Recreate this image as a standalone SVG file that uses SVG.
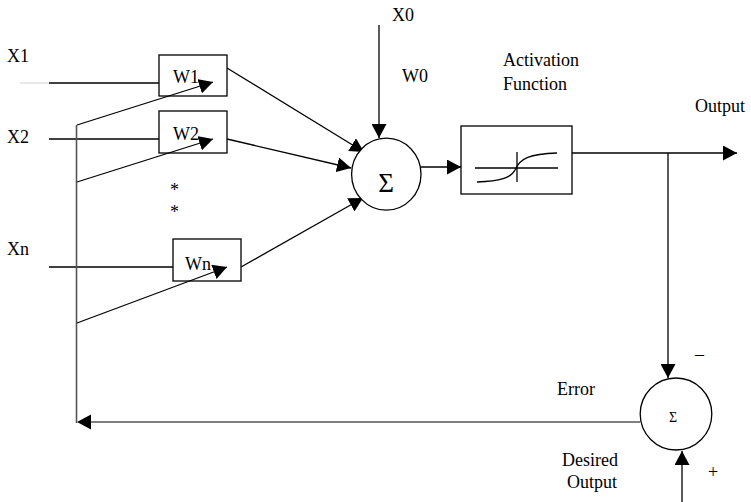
<svg xmlns="http://www.w3.org/2000/svg" width="751" height="502" viewBox="0 0 751 502">
<style>
text{font-family:"Liberation Serif","Times New Roman",serif;font-size:18px;fill:#000}
.box{fill:#fff;stroke:#000;stroke-width:1.3}
.ln{fill:none;stroke:#000;stroke-width:1.3}
.arr{fill:none;stroke:#000;stroke-width:1.3;marker-end:url(#ah)}
.fb{fill:none;stroke:#555;stroke-width:1.6}
</style>
<defs>
<marker id="ah" viewBox="0 0 14 15" markerWidth="14" markerHeight="15" refX="14" refY="7.5" orient="auto" markerUnits="userSpaceOnUse">
<path d="M0,0 L14,7.5 L0,15 z" fill="#000"/>
</marker>
</defs>
<rect width="751" height="502" fill="#fff"/>

<g id="labels">
<text x="7" y="62">X1</text>
<text x="7" y="143">X2</text>
<text x="7" y="255">Xn</text>
<text x="392" y="21">X0</text>
<text x="402" y="82">W0</text>
<text x="503" y="66">Activation</text>
<text x="503" y="90">Function</text>
<text x="695" y="112">Output</text>
<text x="695" y="360">–</text>
<text x="557" y="395">Error</text>
<text x="562" y="466">Desired</text>
<text x="567" y="488">Output</text>
<text x="708" y="478">+</text>
<text x="170" y="196">*</text>
<text x="170" y="218">*</text>
</g>

<g id="connectors">
<line x1="20" y1="83" x2="49" y2="83" stroke="#ddd" stroke-width="1.3"/>
<line class="ln" x1="49" y1="83" x2="159" y2="83"/>
<line class="ln" x1="49" y1="139" x2="159" y2="139"/>
<line class="ln" x1="49" y1="267" x2="173" y2="267"/>
<line class="fb" x1="76.5" y1="125" x2="76.5" y2="423"/>
<line class="arr" x1="227" y1="68" x2="364" y2="152"/>
<line class="arr" x1="227" y1="139" x2="351" y2="168"/>
<line class="arr" x1="241" y1="267" x2="363" y2="198"/>
<line class="arr" x1="379" y1="25" x2="379" y2="138"/>
<line class="arr" x1="421" y1="167" x2="461" y2="167"/>
<line class="arr" x1="572" y1="153" x2="737" y2="153"/>
<line class="arr" x1="668" y1="153" x2="668" y2="378"/>
<line class="fb" x1="640" y1="422" x2="90" y2="422"/>
<path d="M77,422 L91,414.5 L91,429.5 z" fill="#000"/>
<line class="arr" x1="682" y1="502" x2="682" y2="451"/>
</g>

<g id="w1">
<rect class="box" x="159" y="55" width="68" height="41"/>
<text x="173" y="83">W1</text>
</g>
<g id="w2">
<rect class="box" x="159" y="111" width="68" height="42"/>
<text x="173" y="140">W2</text>
</g>
<g id="wn">
<rect class="box" x="173" y="239" width="68" height="42"/>
<text x="185" y="270">Wn</text>
</g>

<g id="input-arrows">
<line class="arr" x1="77" y1="125" x2="213" y2="82"/>
<line class="arr" x1="77" y1="182" x2="213" y2="139"/>
<line class="arr" x1="77" y1="323" x2="227" y2="267"/>
</g>

<g id="sum">
<ellipse class="box" cx="386.3" cy="174.2" rx="34.7" ry="36"/>
<text x="386" y="192" text-anchor="middle" style="font-size:27px">Σ</text>
</g>

<g id="activation">
<rect class="box" x="461" y="126" width="111" height="68"/>
<line class="ln" x1="475" y1="168" x2="558" y2="168"/>
<line class="ln" x1="517" y1="152" x2="517" y2="182"/>
<path class="ln" d="M477,182 C500,181 511,178 515,170 C520,158 530,154 557,153"/>
</g>

<g id="error-sum">
<ellipse class="box" cx="676" cy="414" rx="35.8" ry="36"/>
<text x="673" y="421.5" text-anchor="middle" style="font-size:14px">Σ</text>
</g>
</svg>
